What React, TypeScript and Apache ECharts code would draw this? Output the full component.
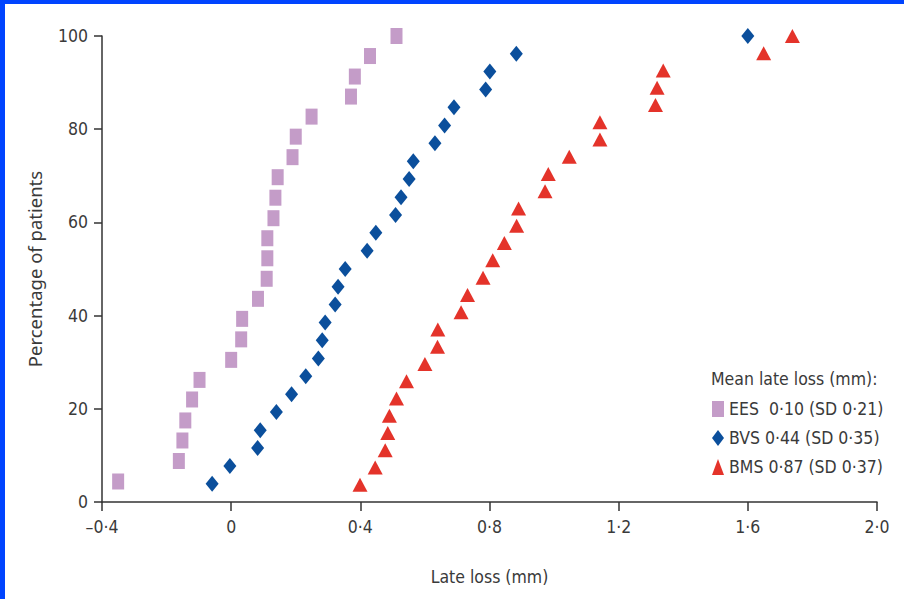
import React, { useEffect, useRef } from "react";
import * as echarts from "echarts";

const seriesNames = ["EES  0·10 (SD 0·21)", "BVS 0·44 (SD 0·35)", "BMS 0·87 (SD 0·37)"];

const eesLoss = [-0.35, -0.162, -0.151, -0.142, -0.121, -0.098, 0.0, 0.031, 0.034, 0.083, 0.11, 0.112, 0.112, 0.131, 0.137, 0.144, 0.19, 0.2, 0.249, 0.371, 0.383, 0.43, 0.512];
const eesPct = [4.4, 8.8, 13.2, 17.5, 22.0, 26.2, 30.5, 34.9, 39.3, 43.6, 47.9, 52.3, 56.6, 60.9, 65.3, 69.7, 74.0, 78.4, 82.7, 87.0, 91.3, 95.7, 100];

const bvsLoss = [-0.059, -0.004, 0.082, 0.09, 0.14, 0.187, 0.231, 0.27, 0.282, 0.291, 0.322, 0.331, 0.353, 0.421, 0.448, 0.509, 0.526, 0.551, 0.564, 0.631, 0.661, 0.69, 0.788, 0.801, 0.883, 1.6];
const bvsPct = [3.9, 7.7, 11.6, 15.4, 19.3, 23.1, 27.0, 30.8, 34.7, 38.5, 42.4, 46.2, 50.0, 53.9, 57.8, 61.6, 65.4, 69.3, 73.1, 77.0, 80.8, 84.7, 88.5, 92.4, 96.2, 100];

const bmsLoss = [0.399, 0.446, 0.477, 0.485, 0.49, 0.512, 0.543, 0.6, 0.639, 0.64, 0.712, 0.732, 0.78, 0.81, 0.846, 0.884, 0.89, 0.972, 0.982, 1.047, 1.142, 1.142, 1.314, 1.319, 1.338, 1.649, 1.738];
const bmsPct = [3.7, 7.4, 11.1, 14.8, 18.5, 22.2, 25.9, 29.6, 33.3, 37.0, 40.7, 44.4, 48.1, 51.9, 55.6, 59.3, 63.0, 66.7, 70.4, 74.1, 77.8, 81.5, 85.2, 88.9, 92.6, 96.3, 100];

const xTicks: Record<string, string> = { "-0.4": "–0·4", "0": "0", "0.4": "0·4", "0.8": "0·8", "1.2": "1·2", "1.6": "1·6", "2": "2·0" };

const NARROW = "'Liberation Sans Narrow', 'DejaVu Sans Condensed', sans-serif";
const TEXT = "#3a3a3a";

function pairs(xs: number[], ys: number[]) {
  return xs.map((x, i) => [x, ys[i]]);
}

export default function App() {
  const ref = useRef<HTMLDivElement>(null);
  useEffect(() => {
    if (!ref.current) return;
    const chart = echarts.init(ref.current, undefined, { renderer: "svg" });
    chart.setOption({
      animation: false,
      backgroundColor: "#ffffff",
      title: {
        text: "Mean late loss (mm):",
        left: 711,
        top: 370,
        textStyle: { fontFamily: NARROW, fontSize: 17.5, fontWeight: "normal", color: TEXT },
        padding: 0,
      },
      legend: {
        orient: "vertical",
        left: 712,
        top: 400,
        itemGap: 11,
        itemWidth: 12,
        itemHeight: 16,
        padding: 0,
        textStyle: { fontFamily: NARROW, fontSize: 17.5, color: TEXT },
        data: seriesNames,
      },
      grid: { left: 102, right: 27, top: 36, bottom: 97 },
      xAxis: {
        type: "value",
        min: -0.4,
        max: 2.0,
        interval: 0.4,
        splitLine: { show: false },
        axisLine: { show: true, onZero: false, lineStyle: { color: "#333", width: 1.5 } },
        axisTick: { show: true, length: 9, lineStyle: { color: "#333", width: 1.5 } },
        axisLabel: {
          margin: 16,
          fontFamily: NARROW,
          fontSize: 17.5,
          color: TEXT,
          formatter: (v: number) => xTicks[String(Math.round(v * 10) / 10)] ?? String(v),
        },
        name: "Late loss (mm)",
        nameLocation: "middle",
        nameGap: 66,
        nameTextStyle: { fontFamily: NARROW, fontSize: 17.5, color: TEXT },
      },
      yAxis: {
        type: "value",
        min: 0,
        max: 100,
        interval: 20,
        splitLine: { show: false },
        axisLine: { show: true, onZero: false, lineStyle: { color: "#333", width: 1.5 } },
        axisTick: { show: true, length: 8, lineStyle: { color: "#333", width: 1.5 } },
        axisLabel: { margin: 14, fontFamily: NARROW, fontSize: 17.5, color: TEXT },
        name: "Percentage of patients",
        nameLocation: "middle",
        nameGap: 58,
        nameTextStyle: { fontFamily: "'Noto Sans', sans-serif", fontSize: 18.5, color: TEXT },
      },
      series: [
        {
          name: seriesNames[0],
          type: "scatter",
          symbol: "rect",
          symbolSize: [12, 16],
          itemStyle: { color: "#c49cc8", opacity: 1 },
          data: pairs(eesLoss, eesPct),
        },
        {
          name: seriesNames[1],
          type: "scatter",
          symbol: "diamond",
          symbolSize: [13, 16],
          itemStyle: { color: "#0b4f9c", opacity: 1 },
          data: pairs(bvsLoss, bvsPct),
        },
        {
          name: seriesNames[2],
          type: "scatter",
          symbol: "triangle",
          symbolSize: [15, 14],
          itemStyle: { color: "#e4332a", opacity: 1 },
          data: pairs(bmsLoss, bmsPct),
        },
      ],
    });
    return () => chart.dispose();
  }, []);

  return (
    <div style={{ position: "fixed", left: 0, top: 0, width: 904, height: 599, background: "#fff" }}>
      <div ref={ref} style={{ position: "absolute", left: 0, top: 0, width: 904, height: 599 }} />
      <div style={{ position: "absolute", left: 0, top: 0, width: 904, height: 4, background: "#0044ff", pointerEvents: "none" }} />
      <div style={{ position: "absolute", left: 0, top: 0, width: 5, height: 599, background: "#0044ff", pointerEvents: "none" }} />
    </div>
  );
}
